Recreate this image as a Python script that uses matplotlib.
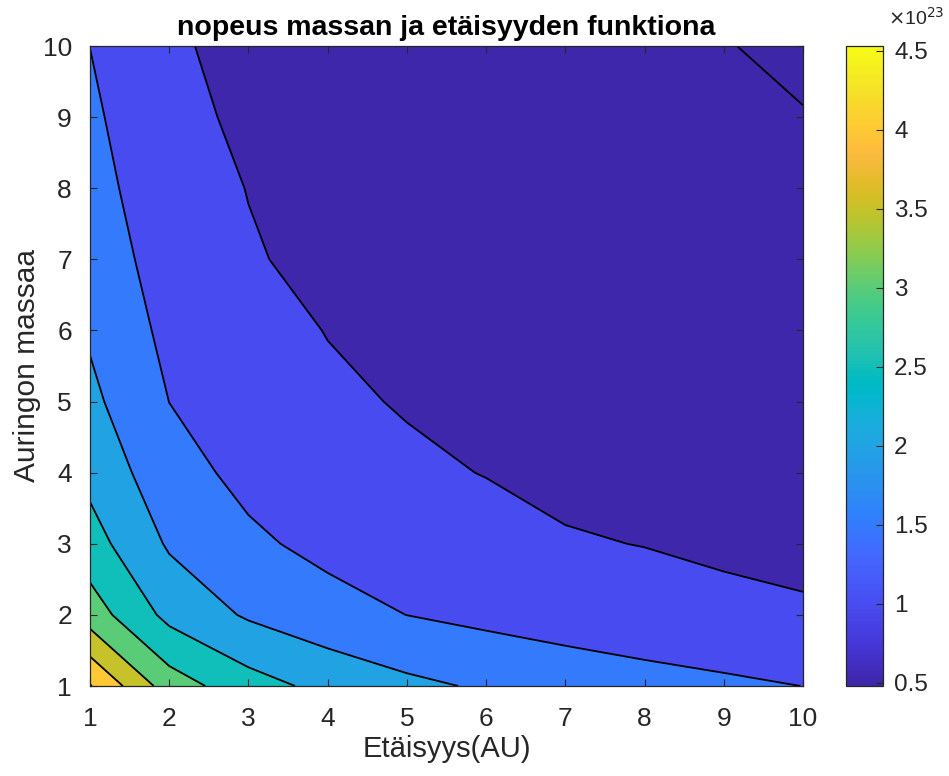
import numpy as np
import matplotlib
matplotlib.use("Agg")
import matplotlib.pyplot as plt
from matplotlib.colors import LinearSegmentedColormap, Normalize
from matplotlib.cm import ScalarMappable

plt.rcParams['font.family'] = ['Liberation Sans', 'DejaVu Sans']

# ---- data (values in units of 1e23) ----
distance_au = [1, 2, 3, 4, 5, 6, 7, 8, 9, 10]
sun_mass = [1, 2, 3, 4, 5, 6, 7, 8, 9, 10]
speed = [  # rows: sun mass 1..10, columns: distance 1..10
    [4.530, 3.250, 2.700, 2.360, 2.110, 1.940, 1.800, 1.680, 1.585, 1.497],
    [3.250, 2.360, 1.940, 1.680, 1.497, 1.375, 1.270, 1.190, 1.125, 1.060],
    [2.700, 1.940, 1.585, 1.375, 1.230, 1.125, 1.035, 0.990, 0.920, 0.875],
    [2.360, 1.680, 1.375, 1.190, 1.060, 0.990, 0.902, 0.845, 0.795, 0.755],
    [2.110, 1.497, 1.230, 1.060, 0.975, 0.875, 0.806, 0.755, 0.712, 0.676],
    [1.940, 1.375, 1.125, 0.990, 0.875, 0.795, 0.737, 0.690, 0.650, 0.617],
    [1.800, 1.270, 1.035, 0.902, 0.806, 0.737, 0.683, 0.638, 0.602, 0.572],
    [1.680, 1.190, 0.990, 0.845, 0.755, 0.690, 0.638, 0.598, 0.563, 0.535],
    [1.585, 1.125, 0.920, 0.795, 0.712, 0.650, 0.602, 0.563, 0.531, 0.504],
    [1.497, 1.060, 0.875, 0.755, 0.676, 0.617, 0.572, 0.535, 0.504, 0.480],
]
contour_levels = [0.5, 1.0, 1.5, 2.0, 2.5, 3.0, 3.5, 4.0, 4.5]
cbar_ticks = [0.5, 1, 1.5, 2, 2.5, 3, 3.5, 4, 4.5]
cbar_ticklabels = ['0.5', '1', '1.5', '2', '2.5', '3', '3.5', '4', '4.5']
x_ticks = [1, 2, 3, 4, 5, 6, 7, 8, 9, 10]
y_ticks = [1, 2, 3, 4, 5, 6, 7, 8, 9, 10]

# ---- MATLAB parula colormap ----
parula64 = [
    [0.2422, 0.1504, 0.6603], [0.2504, 0.1650, 0.7076], [0.2578, 0.1818, 0.7511],
    [0.2647, 0.1978, 0.7952], [0.2706, 0.2147, 0.8364], [0.2751, 0.2342, 0.8710],
    [0.2783, 0.2559, 0.8991], [0.2803, 0.2782, 0.9221], [0.2813, 0.3006, 0.9414],
    [0.2810, 0.3228, 0.9579], [0.2795, 0.3447, 0.9717], [0.2760, 0.3667, 0.9829],
    [0.2699, 0.3892, 0.9906], [0.2602, 0.4123, 0.9952], [0.2440, 0.4358, 0.9988],
    [0.2206, 0.4603, 0.9973], [0.1963, 0.4847, 0.9892], [0.1834, 0.5074, 0.9798],
    [0.1786, 0.5289, 0.9682], [0.1764, 0.5499, 0.9520], [0.1687, 0.5703, 0.9359],
    [0.1540, 0.5902, 0.9218], [0.1460, 0.6091, 0.9079], [0.1380, 0.6276, 0.8973],
    [0.1248, 0.6459, 0.8883], [0.1113, 0.6635, 0.8763], [0.0952, 0.6798, 0.8598],
    [0.0689, 0.6948, 0.8394], [0.0297, 0.7082, 0.8163], [0.0036, 0.7203, 0.7917],
    [0.0067, 0.7312, 0.7660], [0.0433, 0.7411, 0.7394], [0.0964, 0.7500, 0.7120],
    [0.1408, 0.7584, 0.6842], [0.1717, 0.7670, 0.6554], [0.1938, 0.7758, 0.6251],
    [0.2161, 0.7843, 0.5923], [0.2470, 0.7918, 0.5567], [0.2906, 0.7973, 0.5188],
    [0.3406, 0.8008, 0.4789], [0.3909, 0.8029, 0.4354], [0.4456, 0.8024, 0.3909],
    [0.5044, 0.7993, 0.3480], [0.5616, 0.7942, 0.3045], [0.6174, 0.7876, 0.2612],
    [0.6720, 0.7793, 0.2227], [0.7242, 0.7698, 0.1910], [0.7738, 0.7598, 0.1646],
    [0.8203, 0.7498, 0.1535], [0.8634, 0.7406, 0.1596], [0.9035, 0.7330, 0.1774],
    [0.9393, 0.7288, 0.2100], [0.9728, 0.7298, 0.2394], [0.9956, 0.7434, 0.2371],
    [0.9970, 0.7659, 0.2199], [0.9952, 0.7893, 0.2028], [0.9892, 0.8136, 0.1885],
    [0.9786, 0.8386, 0.1766], [0.9676, 0.8639, 0.1643], [0.9610, 0.8890, 0.1537],
    [0.9597, 0.9135, 0.1423], [0.9628, 0.9373, 0.1265], [0.9691, 0.9606, 0.1064],
    [0.9769, 0.9839, 0.0805],
]
parula = LinearSegmentedColormap.from_list('parula', parula64, N=256)

X, Y = np.meshgrid(distance_au, sun_mass)
Z = np.array(speed)
zmin, zmax = Z.min(), Z.max()
norm = Normalize(vmin=zmin, vmax=zmax)

# MATLAB-style fill: each band coloured by its lower level
fill_levels = [zmin - 1.0] + contour_levels + [zmax + 1.0]
band_colors = [parula(norm(zmin))] + [parula(norm(l)) for l in contour_levels]

fig = plt.figure(figsize=(9.49, 7.76), dpi=100)
ax = fig.add_axes([90 / 949, 1 - 686 / 776, (803 - 90) / 949, (686 - 46) / 776])
ax.contourf(X, Y, Z, levels=fill_levels, colors=band_colors, antialiased=True)
ax.contour(X, Y, Z, levels=contour_levels, colors='black', linewidths=1.3)

gray = '#262626'
ax.set_xlim(1, 10)
ax.set_ylim(1, 10)
ax.set_xticks(x_ticks)
ax.set_yticks(y_ticks)
ax.tick_params(direction='in', length=5, width=0.8, colors=gray, labelsize=19,
               top=True, right=True)
ax.tick_params(axis='x', pad=15)
ax.tick_params(axis='y', pad=13)
for s in ax.spines.values():
    s.set_color(gray)
    s.set_linewidth(0.9)
ax.set_xlabel('Etäisyys(AU)', fontsize=21, color=gray, labelpad=3)
ax.set_ylabel('Auringon massaa', fontsize=21.5, color=gray, labelpad=1)
ax.set_title('nopeus massan ja etäisyyden funktiona', fontsize=20.5,
             fontweight='bold', color='black', pad=8)

cax = fig.add_axes([846 / 949, 1 - 686 / 776, (883 - 846) / 949, (686 - 46) / 776])
sm = ScalarMappable(norm=norm, cmap=parula)
cb = fig.colorbar(sm, cax=cax)
cb.set_ticks(cbar_ticks)
cb.set_ticklabels(cbar_ticklabels)
cax.tick_params(direction='in', length=5, width=0.8, colors=gray, labelsize=17.5,
                right=True, left=False, pad=8)
cb.outline.set_edgecolor(gray)
cb.outline.set_linewidth(0.9)
fig.text(888 / 949, 1 - 25 / 776, r'$\times$10$^{23}$', fontsize=14,
         color=gray, ha='left', va='baseline')

fig.savefig('out.png', dpi=100)
